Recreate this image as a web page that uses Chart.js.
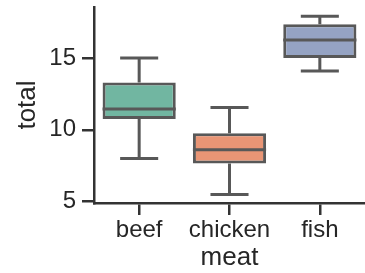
<!DOCTYPE html>
<html><head><meta charset="utf-8">
<script src="https://cdn.jsdelivr.net/npm/chart.js@4"></script>
<style>html,body{margin:0;padding:0;background:#fff}#wrap{width:365px;height:273px}</style>
</head><body><div id="wrap"><canvas id="c" width="365" height="273"></canvas></div>
<script>
const categories = ["beef", "chicken", "fish"];
const whiskerLow = [8.0, 5.5, 14.1];
const q1 = [10.75, 7.65, 15.0];
const median = [11.45, 8.6, 16.25];
const q3 = [13.3, 9.75, 17.35];
const whiskerHigh = [15.0, 11.55, 17.9];
const yTicks = [5, 10, 15];
const boxColors = ["#71b6a1", "#e99575", "#95a3c3"];

const LINE = "#585858";
const AXIS = "#333333";
const TEXT = "#262626";
const FONT = "'Liberation Sans', Arial, sans-serif";

const boxPlugin = {
  id: "boxparts",
  afterDatasetsDraw(chart) {
    const ctx = chart.ctx, x = chart.scales.x, y = chart.scales.y;
    const meta = chart.getDatasetMeta(0);
    ctx.save();
    ctx.strokeStyle = LINE;
    ctx.lineWidth = 3;
    ctx.lineCap = "butt";
    categories.forEach((c, i) => {
      const cx = x.getPixelForValue(i);
      const w = meta.data[i].width;
      const capHalf = w * 0.26;
      const yLo = y.getPixelForValue(whiskerLow[i]);
      const yQ1 = y.getPixelForValue(q1[i]);
      const yQ3 = y.getPixelForValue(q3[i]);
      const yHi = y.getPixelForValue(whiskerHigh[i]);
      const yMed = y.getPixelForValue(median[i]);
      ctx.beginPath();
      ctx.moveTo(cx, yQ1); ctx.lineTo(cx, yLo);
      ctx.moveTo(cx, yQ3); ctx.lineTo(cx, yHi);
      ctx.moveTo(cx - capHalf, yLo); ctx.lineTo(cx + capHalf, yLo);
      ctx.moveTo(cx - capHalf, yHi); ctx.lineTo(cx + capHalf, yHi);
      ctx.moveTo(cx - w / 2, yMed); ctx.lineTo(cx + w / 2, yMed);
      ctx.stroke();
    });
    ctx.restore();
  }
};

new Chart(document.getElementById("c"), {
  type: "bar",
  data: {
    labels: categories,
    datasets: [{
      data: categories.map((c, i) => [q1[i], q3[i]]),
      backgroundColor: boxColors,
      borderColor: LINE,
      borderWidth: 3,
      borderSkipped: false,
      barPercentage: 0.81,
      categoryPercentage: 1.0
    }]
  },
  options: {
    responsive: false,
    animation: false,
    devicePixelRatio: 1,
    layout: { padding: { top: 7, right: 0, left: 0, bottom: 0 } },
    plugins: { legend: { display: false }, tooltip: { enabled: false } },
    scales: {
      x: {
        type: "category",
        offset: true,
        grid: { display: true, offset: false, drawOnChartArea: false, drawTicks: true, tickLength: 12, color: AXIS, lineWidth: 2.5 },
        border: { display: true, color: AXIS, width: 2.5 },
        ticks: { color: TEXT, font: { family: FONT, size: 24 }, padding: 1 },
        title: { display: true, text: "meat", color: TEXT, font: { family: FONT, size: 26 }, padding: { top: 0, bottom: 0 } },
        afterFit(s) { s.height = 70; s.paddingLeft = 0; s.paddingRight = 0; }
      },
      y: {
        type: "linear",
        min: 4.9,
        max: 18.55,
        afterBuildTicks(s) { s.ticks = yTicks.map(v => ({ value: v })); },
        grid: { display: true, drawOnChartArea: false, drawTicks: true, tickLength: 12, color: AXIS, lineWidth: 2.5 },
        border: { display: true, color: AXIS, width: 2.5 },
        ticks: { color: TEXT, font: { family: FONT, size: 24 }, padding: 6 },
        title: { display: true, text: "total", color: TEXT, font: { family: FONT, size: 26 }, padding: { top: 12, bottom: 0 } },
        afterFit(s) { s.width = 94; s.paddingTop = 0; s.paddingBottom = 0; }
      }
    }
  },
  plugins: [boxPlugin]
});
</script>
</body></html>
